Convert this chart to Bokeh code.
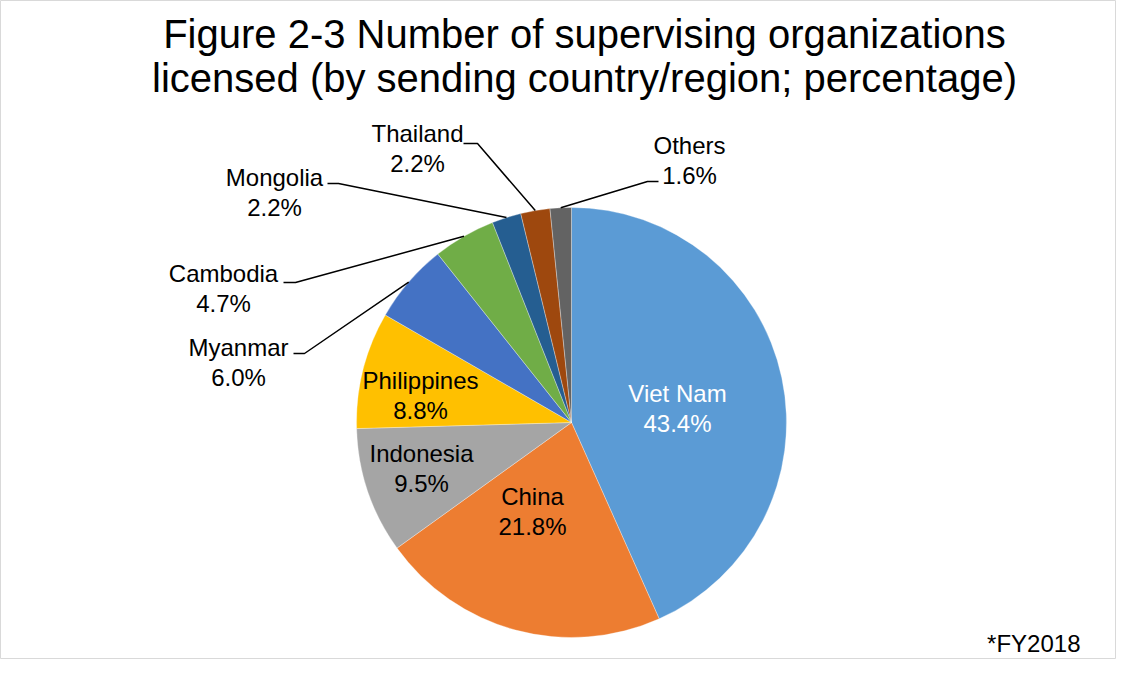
import math
from bokeh.plotting import figure
from bokeh.models import Range1d, ColumnDataSource
from bokeh.core.properties import value
from bokeh.embed import file_html
from bokeh.resources import INLINE

categories = ["Viet Nam", "China", "Indonesia", "Philippines", "Myanmar",
              "Cambodia", "Mongolia", "Thailand", "Others"]
percentages = [43.4, 21.8, 9.5, 8.8, 6.0, 4.7, 2.2, 2.2, 1.6]
colors = ["#5B9BD5", "#ED7D31", "#A5A5A5", "#FFC000", "#4472C4",
          "#70AD47", "#255E91", "#9E480E", "#636363"]
label_colors = ["white", "black", "black", "black", "black",
                "black", "black", "black", "black"]
# label centre positions (page pixels, top-left origin)
label_pos = [(677, 408), (532, 511), (421, 468), (420, 395), (238, 362),
             (223, 288), (274, 192), (417, 148), (689, 160)]
# leader line knee points for outside labels (start, knee)
leaders = {
    "Myanmar": [(293, 353), (304, 353)],
    "Cambodia": [(283, 282), (295, 282)],
    "Mongolia": [(327, 183), (338, 183)],
    "Thailand": [(463, 143), (477, 143)],
    "Others": [(658, 181), (647, 181)],
}

W, H = 1132, 675
def Y(y):
    return H - y

cx, cy, R = 571, 422, 215
total = sum(percentages)

p = figure(width=1116, height=659, output_backend="svg", toolbar_location=None,
           x_range=Range1d(0, 1116), y_range=Range1d(16, 675), min_border=0)
p.axis.visible = False
p.grid.visible = False
p.outline_line_color = "#D9D9D9"
p.outline_line_width = 1
p.background_fill_color = "white"

starts, ends, mids = [], [], []
cum = 0.0
for v in percentages:
    a0 = math.pi / 2 - cum / total * 2 * math.pi
    cum += v
    a1 = math.pi / 2 - cum / total * 2 * math.pi
    starts.append(a0)
    ends.append(a1)
    mids.append((a0 + a1) / 2)

src = ColumnDataSource(dict(start=starts, end=ends, color=colors))
p.wedge(x=cx, y=Y(cy), radius=R, start_angle="start", end_angle="end",
        direction="clock", fill_color="color", line_color="white",
        line_width=0.7, line_alpha=0.45, source=src)

# leader lines
for i, cat in enumerate(categories):
    if cat in leaders:
        (x0, y0), (x1, y1) = leaders[cat]
        ex = cx + R * math.cos(mids[i])
        ey = Y(cy) + R * math.sin(mids[i])
        p.line([x0, x1, ex], [Y(y0), Y(y1), ey], line_color="black", line_width=1.5)

fs = "24px"
for i, cat in enumerate(categories):
    lx, ly = label_pos[i]
    p.text(x=[lx], y=[Y(ly - 15)], text=[cat], text_align="center",
           text_baseline="middle", text_font=value("Liberation Sans"),
           text_font_size=fs, text_color=label_colors[i])
    p.text(x=[lx], y=[Y(ly + 15)], text=[f"{percentages[i]:.1f}%"], text_align="center",
           text_baseline="middle", text_font=value("Liberation Sans"),
           text_font_size=fs, text_color=label_colors[i])

p.text(x=[584], y=[Y(33)], text=["Figure 2-3 Number of supervising organizations"],
       text_align="center", text_baseline="middle", text_font=value("Liberation Sans"),
       text_font_size="40px", text_color="black")
p.text(x=[584], y=[Y(77)], text=["licensed (by sending country/region; percentage)"],
       text_align="center", text_baseline="middle", text_font=value("Liberation Sans"),
       text_font_size="40px", text_color="black")
p.text(x=[1080], y=[Y(643)], text=["*FY2018"], text_align="right",
       text_baseline="middle", text_font=value("Liberation Sans"),
       text_font_size=fs, text_color="black")

open("out.html", "w").write(file_html(p, INLINE))
